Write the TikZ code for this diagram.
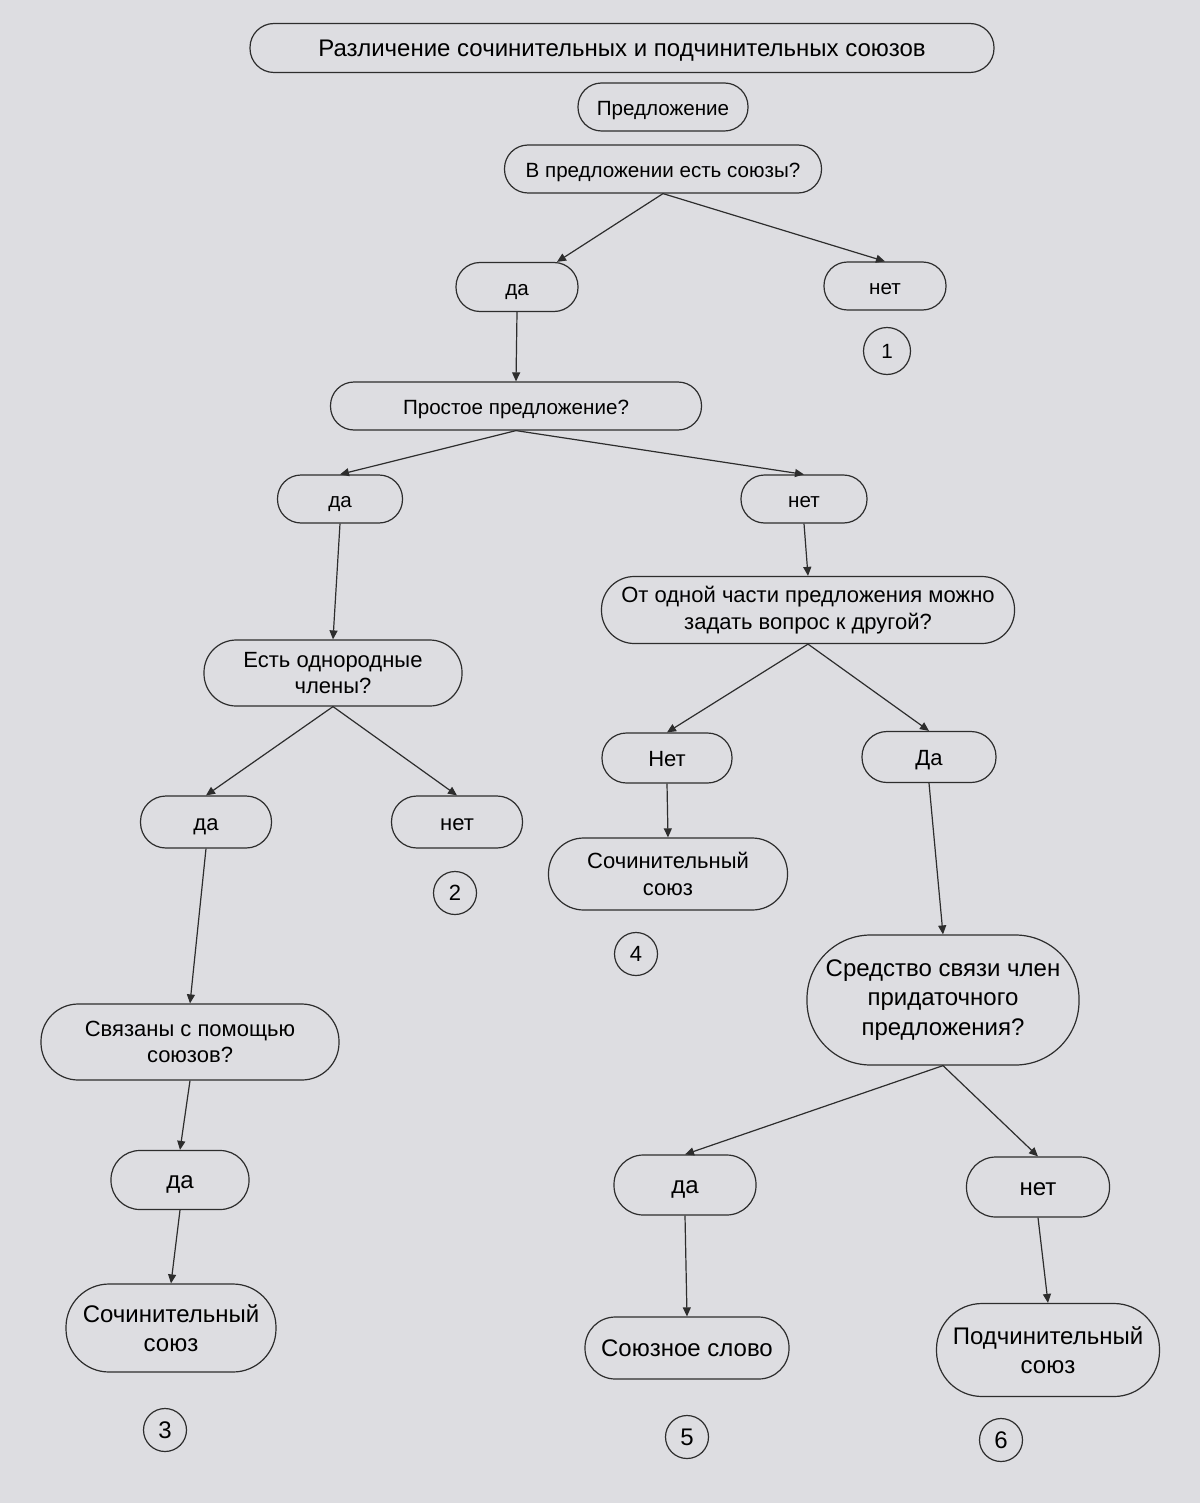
\documentclass[tikz,border=0pt]{standalone}
\usepackage{fontspec}
\setmainfont{Liberation Sans}
\usepackage{xcolor}
\usetikzlibrary{arrows.meta,calc}
\definecolor{paper}{RGB}{221,221,225}
\definecolor{ink}{RGB}{45,45,45}
\begin{document}
\begin{tikzpicture}[x=0.5pt,y=-0.5pt,>={Triangle[length=4.5pt,width=4pt]},
box/.style 2 args={draw=ink,line width=0.6pt,align=center,inner sep=1pt,minimum width=#1pt,minimum height=#2pt,rounded corners=0.49*#2pt},
one/.style={text height=1.1em,text depth=0.26em},
num/.style={circle,draw=ink,line width=0.6pt,inner sep=0pt,minimum size=21.5pt},
fa/.style={font=\fontsize{10.3}{12.4}\selectfont},
fb/.style={font=\fontsize{11}{13.4}\selectfont},
fc/.style={font=\fontsize{12}{14.8}\selectfont},
ar/.style={->,draw=ink,line width=0.6pt}]
\fill[paper](0,0)rectangle(1200,1503);
\useasboundingbox(0,0)rectangle(1200,1503);
\node[box={372}{24.5},fc,one](title)at(622,48){Различение сочинительных и подчинительных союзов};
\node[box={85}{24},fa,one](pred)at(663,107){Предложение};
\node[box={158.5}{24},fa,one](q1)at(663,169){В предложении есть союзы?};
\node[box={61}{24.5},fa,one](da1)at(517,287){да};
\node[box={61}{24},fa,one](net1)at(885,286){нет};
\node[num,fa,minimum size=23.5pt](n1)at(887,351){1};
\node[box={185.5}{24},fa,one](prost)at(516,406){Простое предложение?};
\node[box={62.5}{24},fa,one](da2)at(340,499){да};
\node[box={63}{24},fa,one](net2)at(804,499){нет};
\node[box={206.5}{33.5},fb](ot)at(808,610){От одной части предложения можно\\задать вопрос к другой?};
\node[box={129}{33},fb](est)at(333,673){Есть однородные\\члены?};
\node[box={65}{25},fb,one](net3)at(667,758){Нет};
\node[box={67}{25.5},fb,one](da3)at(929,757){Да};
\node[box={65.5}{26},fb,one](da4)at(206,822){да};
\node[box={65.5}{26},fb,one](net4)at(457,822){нет};
\node[num,fb](n2)at(455,893){2};
\node[box={119.5}{36},fb](soch1)at(668,874){Сочинительный\\союз};
\node[num,fb](n4)at(636,954){4};
\node[box={136}{65},fc](sred)at(943,1000){Средство связи член\\придаточного\\предложения?};
\node[box={149}{38},fb](svyaz)at(190,1042){Связаны с помощью\\союзов?};
\node[box={69}{29.5},fc,one](da5)at(180,1180){да};
\node[box={71}{30},fc,one](da6)at(685,1185){да};
\node[box={71.5}{30},fc,one](net6)at(1038,1187){нет};
\node[box={105}{44},fc](soch2)at(171,1328){Сочинительный\\союз};
\node[box={102}{31},fc,one](soyuz)at(687,1348){Союзное слово};
\node[box={111.5}{46.5},fc](podch)at(1048,1350){Подчинительный\\союз};
\node[num,fc](n3)at(165,1430){3};
\node[num,fc](n5)at(687,1437){5};
\node[num,fc](n6)at(1001,1440){6};
\draw[ar](q1.south)--($(da1.north)+(40,0)$);
\draw[ar](q1.south)--(net1.north);
\draw[ar](da1.south)--(prost.north);
\draw[ar](prost.south)--(da2.north);
\draw[ar](prost.south)--(net2.north);
\draw[ar](da2.south)--(est.north);
\draw[ar](net2.south)--(ot.north);
\draw[ar](ot.south)--(net3.north);
\draw[ar](ot.south)--(da3.north);
\draw[ar](est.south)--(da4.north);
\draw[ar](est.south)--(net4.north);
\draw[ar](net3.south)--(soch1.north);
\draw[ar](da3.south)--(sred.north);
\draw[ar](da4.south)--(svyaz.north);
\draw[ar](svyaz.south)--(da5.north);
\draw[ar](da5.south)--(soch2.north);
\draw[ar](sred.south)--(da6.north);
\draw[ar](sred.south)--(net6.north);
\draw[ar](da6.south)--(soyuz.north);
\draw[ar](net6.south)--(podch.north);
\end{tikzpicture}
\end{document}
